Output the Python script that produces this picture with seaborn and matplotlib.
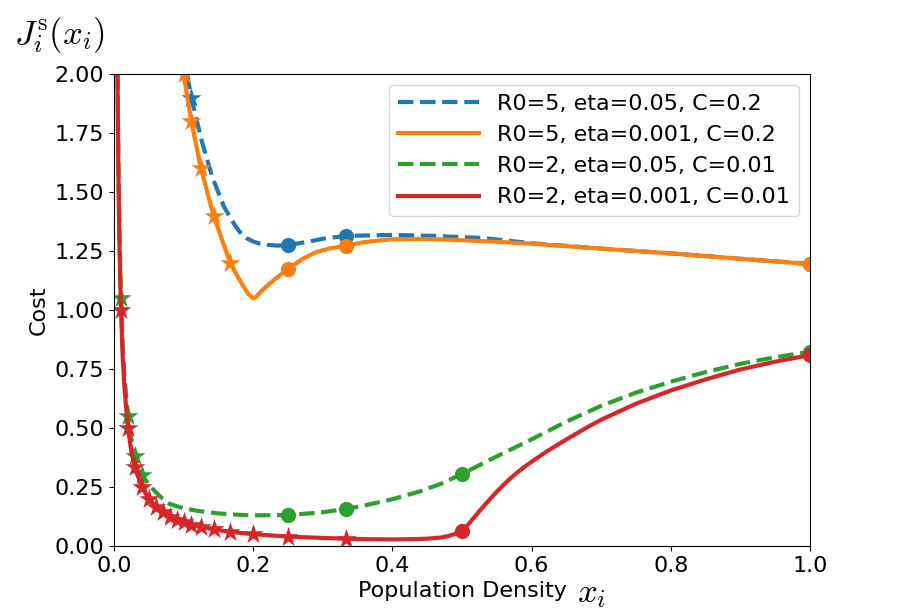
import matplotlib
matplotlib.use("Agg")
import matplotlib.pyplot as plt
import seaborn as sns

plt.rcParams['mathtext.fontset'] = 'cm'
plt.rcParams['font.size'] = 16

# legend labels
labels = ['R0=5, eta=0.05, C=0.2', 'R0=5, eta=0.001, C=0.2',
          'R0=2, eta=0.05, C=0.01', 'R0=2, eta=0.001, C=0.01']

# blue: R0=5, eta=0.05, C=0.2
blue_x = [0.105, 0.111, 0.12, 0.127, 0.141, 0.158, 0.172, 0.18, 0.19, 0.2, 0.21, 0.22,
          0.235, 0.25, 0.28, 0.3, 0.333, 0.4, 0.46, 0.53, 0.6, 0.7, 0.8, 0.9, 1.0]
blue_y = [2.0, 1.9, 1.79, 1.706, 1.565, 1.438, 1.367, 1.333, 1.305, 1.29, 1.281, 1.276,
          1.273, 1.275, 1.29, 1.302, 1.314, 1.318, 1.314, 1.305, 1.283, 1.26, 1.24,
          1.217, 1.195]
blue_star_x = [0.111]
blue_star_y = [1.9]
blue_dot_x = [0.25, 0.333, 1.0]
blue_dot_y = [1.275, 1.314, 1.195]

# orange: R0=5, eta=0.001, C=0.2
orange_x = [0.1, 0.111, 0.125, 0.143, 0.167, 0.178, 0.186, 0.193, 0.2, 0.205, 0.21, 0.22,
            0.235, 0.25, 0.27, 0.29, 0.31, 0.333, 0.36, 0.4, 0.45, 0.5, 0.55, 0.6, 0.7,
            0.8, 0.9, 1.0]
orange_y = [2.0, 1.8, 1.6, 1.4, 1.2, 1.14, 1.1, 1.068, 1.05, 1.058, 1.075, 1.103,
            1.14, 1.174, 1.215, 1.245, 1.261, 1.272, 1.288, 1.3, 1.301, 1.296, 1.289,
            1.281, 1.26, 1.24, 1.217, 1.195]
orange_star_x = [0.1, 0.111, 0.125, 0.143, 0.167]
orange_star_y = [2.0, 1.8, 1.6, 1.4, 1.2]
orange_dot_x = [0.25, 0.333, 1.0]
orange_dot_y = [1.174, 1.272, 1.195]

# green: R0=2, eta=0.05, C=0.01
green_x = [0.0052, 0.006, 0.007, 0.008, 0.01, 0.0125, 0.015, 0.02, 0.025, 0.03, 0.035,
           0.04, 0.05, 0.06, 0.07, 0.08, 0.1, 0.12, 0.15, 0.18, 0.2, 0.25, 0.3, 0.333,
           0.36, 0.4, 0.44, 0.47, 0.5, 0.55, 0.6, 0.65, 0.7, 0.75, 0.8, 0.85, 0.9,
           0.95, 1.0]
green_y = [2.0, 1.72, 1.48, 1.3, 1.05, 0.85, 0.72, 0.55, 0.45, 0.383, 0.335,
           0.30, 0.26, 0.228, 0.2, 0.178, 0.16, 0.149, 0.138, 0.132, 0.13, 0.131, 0.143,
           0.157, 0.172, 0.198, 0.232, 0.264, 0.305, 0.38, 0.452, 0.527, 0.594, 0.65,
           0.696, 0.737, 0.772, 0.8, 0.823]
green_star_x = [0.01, 0.02, 0.03, 0.04]
green_star_y = [1.05, 0.55, 0.383, 0.30]
green_dot_x = [0.25, 0.333, 0.5, 1.0]
green_dot_y = [0.131, 0.157, 0.305, 0.823]

# red: R0=2, eta=0.001, C=0.01
red_x = [0.005, 0.006, 0.007, 0.008, 0.01, 0.0125, 0.015, 0.02, 0.025, 0.03, 0.04, 0.05,
         0.06, 0.07, 0.08, 0.09, 0.1, 0.12, 0.14, 0.16, 0.18, 0.2, 0.25, 0.3, 0.333,
         0.36, 0.4, 0.43, 0.45, 0.47, 0.48, 0.49, 0.5, 0.505, 0.51, 0.52, 0.53, 0.54,
         0.55, 0.56, 0.57, 0.58, 0.59, 0.6, 0.62, 0.64, 0.66, 0.68, 0.7, 0.75, 0.8,
         0.85, 0.9, 0.95, 1.0]
red_y = [2.0, 1.67, 1.43, 1.25, 1.0, 0.80, 0.67, 0.5, 0.4, 0.333, 0.25, 0.2,
         0.167, 0.143, 0.125, 0.111, 0.1, 0.084, 0.072, 0.063, 0.056, 0.05, 0.04, 0.034,
         0.031, 0.029, 0.028, 0.029, 0.031, 0.036, 0.042, 0.051, 0.064, 0.078, 0.095,
         0.13, 0.165, 0.198, 0.23, 0.26, 0.288, 0.313, 0.336, 0.357, 0.397, 0.434,
         0.469, 0.503, 0.535, 0.603, 0.659, 0.706, 0.748, 0.781, 0.809]
red_star_x = [0.01, 0.02, 0.03, 0.04, 0.05, 0.06, 0.07, 0.08, 0.09, 0.1, 0.111, 0.125,
              0.143, 0.167, 0.2, 0.25, 0.333]
red_star_y = [1.0, 0.5, 0.333, 0.25, 0.2, 0.167, 0.143, 0.125, 0.111, 0.1, 0.09, 0.08,
              0.071, 0.06, 0.05, 0.04, 0.031]
red_dot_x = [0.5, 1.0]
red_dot_y = [0.064, 0.809]

series = [
    (blue_x, blue_y, blue_star_x, blue_star_y, blue_dot_x, blue_dot_y, 'tab:blue', '--'),
    (orange_x, orange_y, orange_star_x, orange_star_y, orange_dot_x, orange_dot_y, 'tab:orange', '-'),
    (green_x, green_y, green_star_x, green_star_y, green_dot_x, green_dot_y, 'tab:green', '--'),
    (red_x, red_y, red_star_x, red_star_y, red_dot_x, red_dot_y, 'tab:red', '-'),
]

fig, ax = plt.subplots(figsize=(9.01, 6.14), dpi=100)
fig.subplots_adjust(left=114/901, right=810/901, top=1-74/614, bottom=1-546/614)

for i, (lx, ly, sx, sy, cx, cy, col, ls) in enumerate(series):
    z = 2 + i * 0.1
    sns.lineplot(x=lx, y=ly, ax=ax, color=col, linestyle=ls, linewidth=3,
                 label=labels[i], sort=False, estimator=None, zorder=z)
    sns.scatterplot(x=sx, y=sy, ax=ax, color=col, marker='*', s=230,
                    linewidth=0, zorder=z + 0.05)
    sns.scatterplot(x=cx, y=cy, ax=ax, color=col, marker='o', s=120,
                    linewidth=0, zorder=z + 0.05)

ax.set_xlim(0, 1)
ax.set_ylim(0, 2)
ax.set_ylabel('Cost', fontsize=16)
ax.set_xlabel('Population Density', fontsize=16)
ax.tick_params(labelsize=16)
fig.text(577/901, 1-593/614, r'$x_i$', fontsize=25, va='center', ha='left')
fig.text(14/901, 1-35/614, r'$J_i^{\rm s}(x_i)$', fontsize=25, va='center', ha='left')
ax.legend(loc='upper right', fontsize=16, handlelength=3.65)

plt.savefig('out.png', dpi=100)
